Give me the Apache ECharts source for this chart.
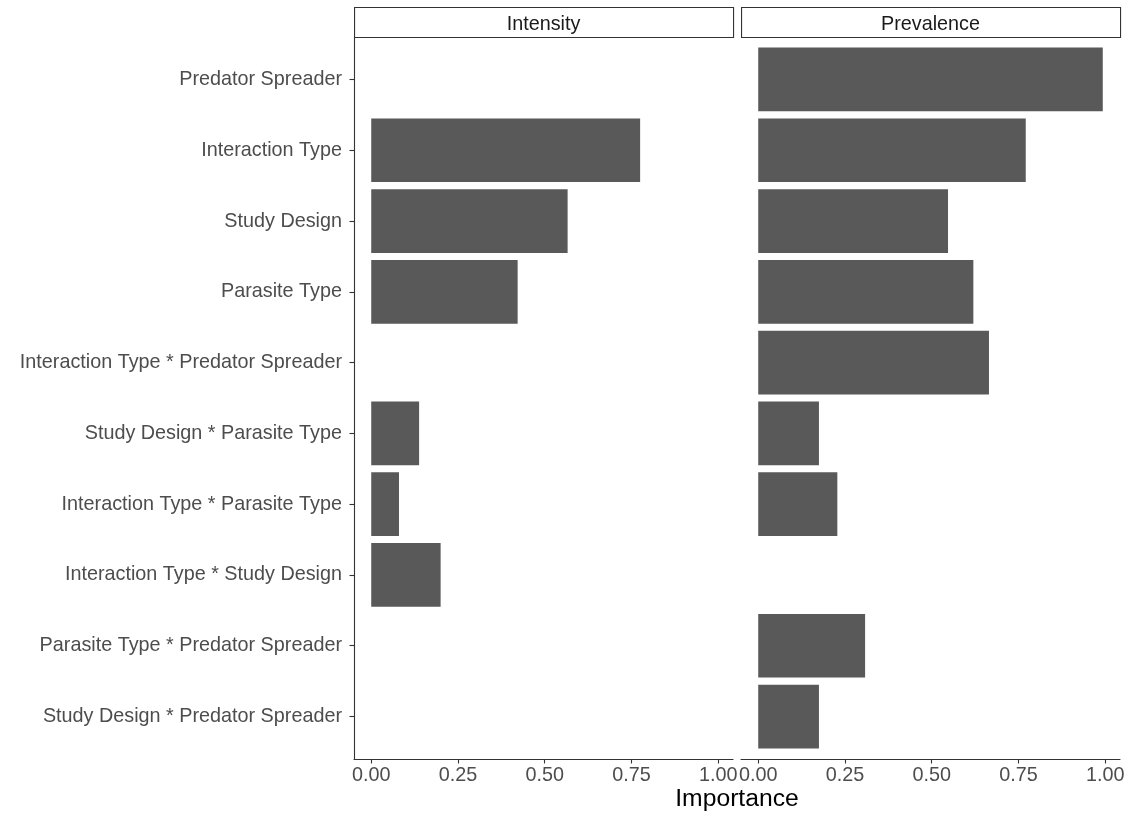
<!DOCTYPE html>
<html>
<head>
<meta charset="utf-8">
<script src="https://cdn.jsdelivr.net/npm/echarts@6/dist/echarts.min.js"></script>
<style>html,body{margin:0;padding:0;background:#fff}#chart{width:1139px;height:818px}</style>
</head>
<body>
<div id="chart"></div>
<script>
const categories = [
  "Predator Spreader",
  "Interaction Type",
  "Study Design",
  "Parasite Type",
  "Interaction Type * Predator Spreader",
  "Study Design * Parasite Type",
  "Interaction Type * Parasite Type",
  "Interaction Type * Study Design",
  "Parasite Type * Predator Spreader",
  "Study Design * Predator Spreader"
];
const panels = ["Intensity", "Prevalence"];
const intensity = [null, 0.775, 0.566, 0.422, null, 0.138, 0.080, 0.200, null, null];
const prevalence = [0.993, 0.771, 0.547, 0.620, 0.665, 0.175, 0.228, null, 0.308, 0.175];
const xTicks = [0, 0.25, 0.5, 0.75, 1.0];
const xTitle = "Importance";

const FONT = "'Liberation Sans', Arial, Helvetica, sans-serif";
const allVals = intensity.concat(prevalence).filter(v => v != null);
const dmax = Math.max(...allVals);
const xMin = -0.05 * dmax, xMax = dmax + 0.05 * dmax;
const catIdx = categories.map((c, i) => i);

function toData(arr) {
  const out = [];
  arr.forEach((v, i) => { if (v != null) out.push([v, i]); });
  return out;
}
function renderBar(params, api) {
  const v = api.value(0), i = api.value(1);
  const p0 = api.coord([0, i]);
  const p1 = api.coord([v, i]);
  const h = api.size([0, 0.9])[1];
  return {
    type: 'rect',
    shape: { x: p0[0], y: p0[1] - h / 2, width: p1[0] - p0[0], height: h },
    style: { fill: '#595959' }
  };
}

const gridTop = 37, gridH = 722, gridW = 379;
const lefts = [354, 741];

const xAxes = lefts.map((l, k) => ({
  type: 'value', gridIndex: k, min: xMin, max: xMax, position: 'bottom',
  axisLine: { show: true, onZero: false, lineStyle: { color: '#333', width: 1.1 } },
  axisTick: { show: true, length: 4.5, customValues: xTicks, lineStyle: { color: '#333', width: 1.1 } },
  axisLabel: { show: true, customValues: xTicks, margin: 7, color: '#4d4d4d', fontSize: 19.8, fontFamily: FONT,
    formatter: v => Number(v).toFixed(2) },
  splitLine: { show: false }
}));
const yAxes = lefts.map((l, k) => ({
  type: 'value', gridIndex: k, min: -0.6, max: categories.length - 1 + 0.6, inverse: true, position: 'left',
  axisLine: { show: k === 0, onZero: false, lineStyle: { color: '#333', width: 1.1 } },
  axisTick: { show: k === 0, length: 4.5, customValues: catIdx, lineStyle: { color: '#333', width: 1.1 } },
  axisLabel: { show: k === 0, customValues: catIdx, margin: 12, padding: [3, 0, 0, 0], color: '#4d4d4d', fontSize: 19.8, fontFamily: FONT,
    formatter: v => categories[Math.round(v)] },
  splitLine: { show: false }
}));

const graphics = [];
lefts.forEach((l, k) => {
  graphics.push({ type: 'rect', left: l, top: 7, shape: { x: 0, y: 0, width: gridW, height: 30 },
    style: { fill: '#fff', stroke: '#333', lineWidth: 1.1 } });
  graphics.push({ type: 'text', x: l + gridW / 2, y: 24.5,
    style: { text: panels[k], fill: '#1a1a1a', font: '19.8px ' + FONT, textAlign: 'center', textVerticalAlign: 'middle' } });
});
graphics.push({ type: 'text', x: 737, y: 799,
  style: { text: xTitle, fill: '#000', font: '24.7px ' + FONT, textAlign: 'center', textVerticalAlign: 'middle' } });

const chart = echarts.init(document.getElementById('chart'), null, { renderer: 'canvas' });
chart.setOption({
  animation: false,
  backgroundColor: '#fff',
  grid: lefts.map(l => ({ left: l, top: gridTop, width: gridW, height: gridH, containLabel: false })),
  xAxis: xAxes,
  yAxis: yAxes,
  series: [
    { type: 'custom', xAxisIndex: 0, yAxisIndex: 0, renderItem: renderBar, encode: { x: 0, y: 1 }, data: toData(intensity) },
    { type: 'custom', xAxisIndex: 1, yAxisIndex: 1, renderItem: renderBar, encode: { x: 0, y: 1 }, data: toData(prevalence) }
  ],
  graphic: graphics
});
</script>
</body>
</html>
